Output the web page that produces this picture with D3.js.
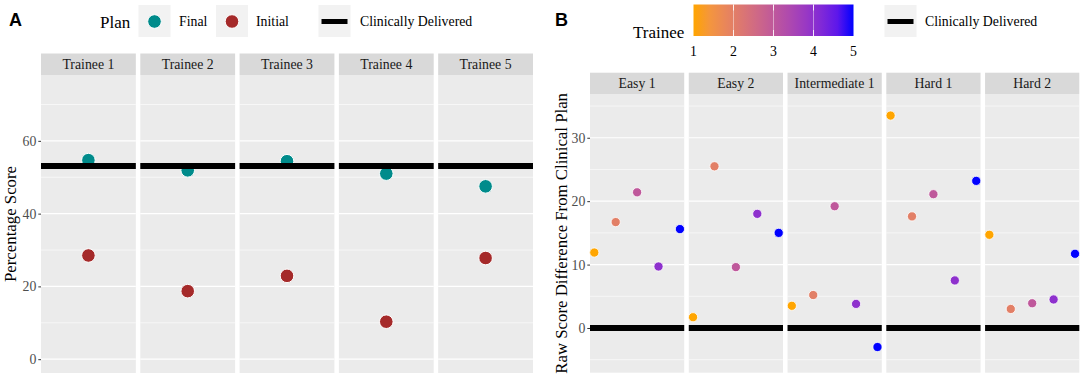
<!DOCTYPE html>
<html>
<head>
<meta charset="utf-8">
<script src="https://cdn.jsdelivr.net/npm/d3@7"></script>
<style>
  body { margin: 0; background: #fff; }
  svg text { font-family: "Liberation Serif", "Times New Roman", serif; }
  svg text.tag { font-family: "Liberation Sans", Arial, sans-serif; font-weight: bold; }
</style>
</head>
<body>
<svg id="chart" width="1084" height="379"></svg>
<script>
// panel A data
var trainees = ["Trainee 1", "Trainee 2", "Trainee 3", "Trainee 4", "Trainee 5"];
var finalScores = [54.7, 51.9, 54.4, 51.0, 47.5];
var initialScores = [28.5, 18.7, 22.9, 10.3, 27.8];
var clinicalScore = 53.1;
var leftTicks = [0, 20, 40, 60];

// panel B data
var cases = ["Easy 1", "Easy 2", "Intermediate 1", "Hard 1", "Hard 2"];
var traineeNums = [1, 2, 3, 4, 5];
var diffEasy1 = [11.9, 16.7, 21.4, 9.7, 15.6];
var diffEasy2 = [1.7, 25.5, 9.6, 18.0, 15.0];
var diffInter1 = [3.5, 5.2, 19.2, 3.8, -3.0];
var diffHard1 = [33.5, 17.6, 21.1, 7.5, 23.2];
var diffHard2 = [14.7, 3.0, 3.9, 4.5, 11.7];
var clinicalDiff = 0;
var rightTicks = [0, 10, 20, 30];
var colorTicks = [1, 2, 3, 4, 5];

var finalColor = "#008B8B",
    initialColor = "#A52A2A",
    panelBg = "#EBEBEB",
    stripBg = "#D9D9D9",
    tickColor = "#4D4D4D";

var colorScale = d3.scaleLinear().domain([1, 5]).range(["orange", "blue"]).interpolate(d3.interpolateLab);

var svg = d3.select("#chart");

function drawFacets(opts){
    var band = d3.scaleBand().domain(opts.facets).range(opts.xRange).paddingInner(opts.pad);
    var y = d3.scaleLinear().domain(opts.yDomain).range([opts.bottom, opts.top]);
    var ticks = opts.ticks;
    var step = ticks[1] - ticks[0];
    var minor = [];
    for (var v = ticks[0] - step / 2; v <= opts.yDomain[1]; v += step) {
        if (v >= opts.yDomain[0]) minor.push(v);
    }

    var g = svg.append("g");
    var panels = g.selectAll("g.panel").data(opts.facets).enter()
        .append("g").attr("class", "panel")
        .attr("transform", function(d){ return "translate(" + band(d) + ",0)"; });

    panels.append("rect")
        .attr("y", opts.top).attr("width", band.bandwidth()).attr("height", opts.bottom - opts.top)
        .attr("fill", panelBg);

    panels.selectAll("line.minor").data(minor).enter().append("line")
        .attr("x1", 0).attr("x2", band.bandwidth())
        .attr("y1", function(d){ return y(d); }).attr("y2", function(d){ return y(d); })
        .attr("stroke", "#fff").attr("stroke-width", 0.6);

    panels.selectAll("line.major").data(ticks).enter().append("line")
        .attr("x1", 0).attr("x2", band.bandwidth())
        .attr("y1", function(d){ return y(d); }).attr("y2", function(d){ return y(d); })
        .attr("stroke", "#fff").attr("stroke-width", 1.2);

    // strips
    panels.append("rect")
        .attr("y", opts.stripTop).attr("width", band.bandwidth()).attr("height", opts.top - opts.stripTop)
        .attr("fill", stripBg);
    panels.append("text")
        .attr("x", band.bandwidth() / 2).attr("y", (opts.stripTop + opts.top) / 2 + 4.8)
        .attr("text-anchor", "middle").attr("font-size", "13.8px").attr("fill", "#1A1A1A")
        .text(function(d){ return d; });

    // y axis
    var axis = g.append("g")
        .attr("transform", "translate(" + opts.xRange[0] + ",0)")
        .call(d3.axisLeft(y).tickValues(ticks).tickSize(2.7).tickPadding(2));
    axis.select("path.domain").remove();
    axis.selectAll("line").attr("stroke", "#333").attr("stroke-width", 1);
    axis.selectAll("text").attr("fill", tickColor).attr("font-size", "13.8px");

    g.append("text")
        .attr("transform", "translate(" + opts.titleX + "," + ((opts.top + opts.bottom) / 2) + ") rotate(-90)")
        .attr("text-anchor", "middle").attr("font-size", "16.8px").attr("fill", "#000")
        .text(opts.yTitle);

    return {band: band, y: y, panels: panels, g: g};
}

// ---- Panel A ----
var A = drawFacets({
    facets: trainees, xRange: [41, 533], pad: 0.045,
    yDomain: [-3.8, 78.1], top: 75, bottom: 373, stripTop: 53.5,
    ticks: leftTicks, titleX: 16, yTitle: "Percentage Score"
});

A.panels.each(function(d, i){
    var p = d3.select(this), cx = A.band.bandwidth() / 2;
    p.append("circle").attr("cx", cx).attr("cy", A.y(initialScores[i])).attr("r", 6.8)
        .attr("fill", initialColor).attr("stroke", "#fff").attr("stroke-width", 1);
    p.append("circle").attr("cx", cx).attr("cy", A.y(finalScores[i])).attr("r", 6.8)
        .attr("fill", finalColor).attr("stroke", "#fff").attr("stroke-width", 1);
    p.append("line").attr("x1", 0).attr("x2", A.band.bandwidth())
        .attr("y1", A.y(clinicalScore)).attr("y2", A.y(clinicalScore))
        .attr("stroke", "#000").attr("stroke-width", 6);
});

// ---- Panel B ----
var diffs = [diffEasy1, diffEasy2, diffInter1, diffHard1, diffHard2];
var B = drawFacets({
    facets: cases, xRange: [590, 1079.3], pad: 0.046,
    yDomain: [-7.05, 36.9], top: 94, bottom: 372.7, stripTop: 72.7,
    ticks: rightTicks, titleX: 567, yTitle: "Raw Score Difference From Clinical Plan"
});
var xIn = d3.scaleLinear().domain([0.8, 5.2]).range([0, B.band.bandwidth()]);

B.panels.each(function(d, i){
    var p = d3.select(this);
    p.selectAll("circle").data(traineeNums).enter().append("circle")
        .attr("cx", function(t){ return xIn(t); })
        .attr("cy", function(t, j){ return B.y(diffs[i][j]); })
        .attr("r", 4.6)
        .attr("fill", function(t){ return colorScale(t); })
        .attr("stroke", "#fff").attr("stroke-width", 0.8);
    p.append("line").attr("x1", 0).attr("x2", B.band.bandwidth())
        .attr("y1", B.y(clinicalDiff)).attr("y2", B.y(clinicalDiff))
        .attr("stroke", "#000").attr("stroke-width", 6);
});

// ---- labels A / B ----
svg.append("text").attr("class", "tag").attr("x", 9).attr("y", 25.7).attr("font-size", "18px").text("A");
svg.append("text").attr("class", "tag").attr("x", 555).attr("y", 25.7).attr("font-size", "18px").text("B");

// ---- legend A ----
var legA = svg.append("g");
legA.append("text").attr("x", 100).attr("y", 27.5).attr("font-size", "17px").text("Plan");
var keysA = [
    {x: 138.5, type: "circle", color: finalColor, label: "Final", lx: 179},
    {x: 216, type: "circle", color: initialColor, label: "Initial", lx: 256},
    {x: 318.5, type: "line", color: "#000", label: "Clinically Delivered", lx: 360}
];
keysA.forEach(function(k){
    legA.append("rect").attr("x", k.x).attr("y", 5).attr("width", 32).attr("height", 32).attr("fill", "#F2F2F2");
    if (k.type == "circle") {
        legA.append("circle").attr("cx", k.x + 16).attr("cy", 21.5).attr("r", 6.8)
            .attr("fill", k.color).attr("stroke", "#fff").attr("stroke-width", 1);
    } else {
        legA.append("line").attr("x1", k.x + 3).attr("x2", k.x + 29).attr("y1", 21.5).attr("y2", 21.5)
            .attr("stroke", k.color).attr("stroke-width", 5);
    }
    legA.append("text").attr("x", k.lx).attr("y", 26.3).attr("font-size", "13.8px").text(k.label);
});

// ---- legend B ----
var legB = svg.append("g");
var defs = svg.append("defs");
var grad = defs.append("linearGradient").attr("id", "traineeGrad");
d3.range(0, 1.0001, 0.1).forEach(function(t){
    grad.append("stop").attr("offset", (t * 100) + "%").attr("stop-color", colorScale(1 + 4 * t));
});
var cbX = d3.scaleLinear().domain([1, 5]).range([693.5, 853.5]);
legB.append("text").attr("x", 633).attr("y", 38).attr("font-size", "17px").text("Trainee");
legB.append("rect").attr("x", cbX(1)).attr("y", 4.5).attr("width", cbX(5) - cbX(1)).attr("height", 31.5)
    .attr("fill", "url(#traineeGrad)");
colorTicks.slice(1, 4).forEach(function(t){
    legB.append("line").attr("x1", cbX(t)).attr("x2", cbX(t)).attr("y1", 4.5).attr("y2", 36)
        .attr("stroke", "#fff").attr("stroke-opacity", 0.45).attr("stroke-width", 1);
    legB.append("line").attr("x1", cbX(t)).attr("x2", cbX(t)).attr("y1", 4.5).attr("y2", 10.5)
        .attr("stroke", "#fff").attr("stroke-opacity", 0.8);
    legB.append("line").attr("x1", cbX(t)).attr("x2", cbX(t)).attr("y1", 30).attr("y2", 36)
        .attr("stroke", "#fff").attr("stroke-opacity", 0.8);
});
legB.selectAll("text.cbt").data(colorTicks).enter().append("text")
    .attr("x", function(d){ return cbX(d); }).attr("y", 55.5)
    .attr("text-anchor", "middle").attr("font-size", "13.8px").text(function(d){ return d; });

legB.append("rect").attr("x", 884.5).attr("y", 5).attr("width", 32).attr("height", 32).attr("fill", "#F2F2F2");
legB.append("line").attr("x1", 887.5).attr("x2", 913.5).attr("y1", 21.5).attr("y2", 21.5)
    .attr("stroke", "#000").attr("stroke-width", 5);
legB.append("text").attr("x", 925).attr("y", 26.3).attr("font-size", "13.8px").text("Clinically Delivered");
</script>
</body>
</html>
